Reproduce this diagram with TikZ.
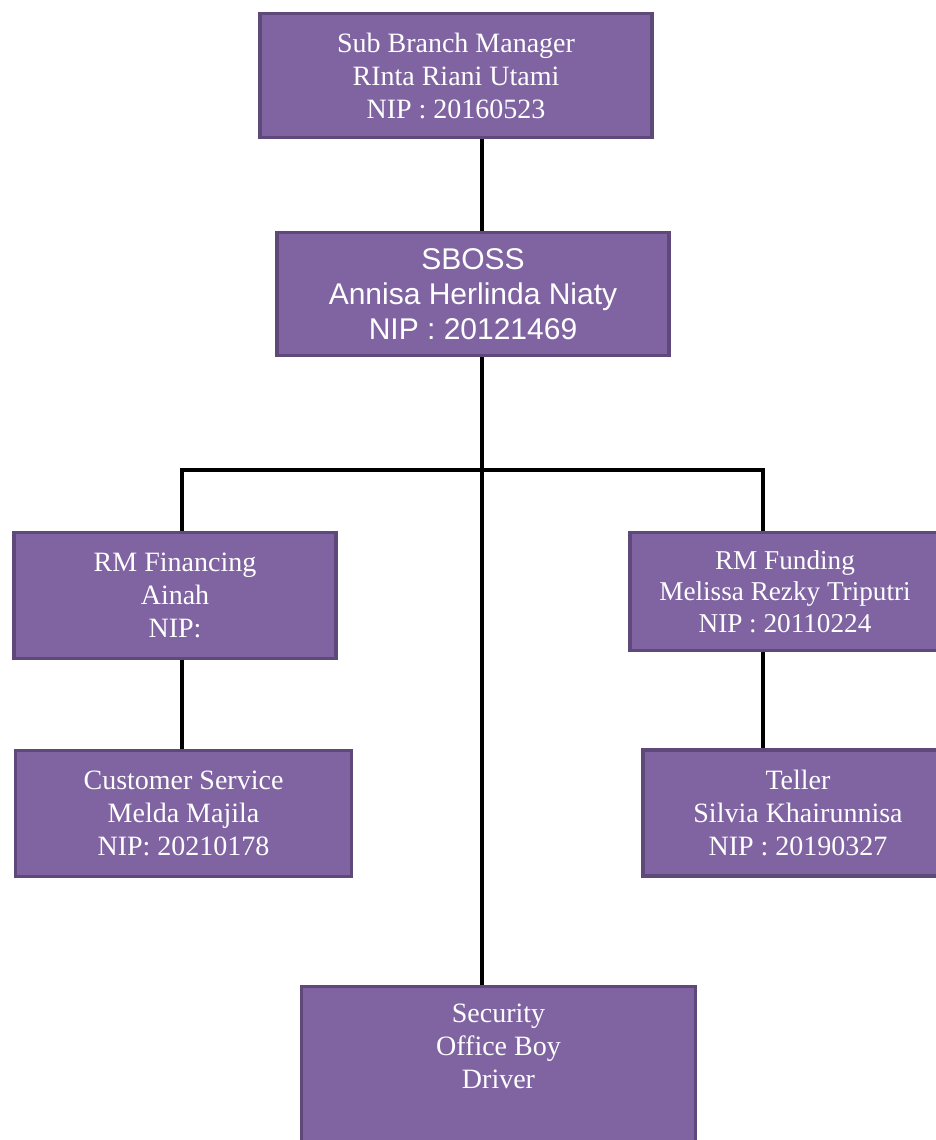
\documentclass[tikz,border=0pt]{standalone}
\usepackage{fontspec}
\setmainfont{Liberation Serif}
\newfontfamily\sbossfont{Liberation Sans}
\usepackage{tikz}
\usepackage{xcolor}
\definecolor{boxfill}{HTML}{8064A2}
\definecolor{boxline}{HTML}{5F497A}
\tikzset{
  orgbox/.style={draw=boxline, line width=1.7pt, fill=boxfill, text=white,
    align=center, inner sep=0pt, font={\fontsize{14}{16.5}\selectfont}},
  conn/.style={black, line width=2pt}
}
\begin{document}
\begin{tikzpicture}[x=0.5pt,y=-0.5pt]
				\useasboundingbox (0,0) rectangle (936,1140);
				\clip (0,0) rectangle (936,1140);
				\coordinate (trunk) at (482,470);
				\coordinate (lbr) at (182,470);
				\coordinate (rbr) at (763,470);
				\node[orgbox, minimum width=196pt, minimum height=62pt] (mgr) at (456,75.5) {Sub Branch Manager\\RInta Riani Utami\\NIP : 20160523};
				\node[orgbox, minimum width=196pt, minimum height=61.5pt, font={\sbossfont\fontsize{15}{17.5}\selectfont}] (sboss) at (473,294) {SBOSS\\Annisa Herlinda Niaty\\NIP : 20121469};
				\node[orgbox, minimum width=161pt, minimum height=63pt] (fin) at (175,595.5) {RM Financing\\Ainah\\NIP:};
				\node[orgbox, minimum width=155pt, minimum height=59pt, font={\fontsize{13.6}{15.75}\selectfont}] (fund) at (785,591.5) {RM Funding\\Melissa Rezky Triputri\\NIP : 20110224};
				\node[orgbox, minimum width=168pt, minimum height=63pt] (cs) at (183.5,813.5) {Customer Service\\Melda Majila\\NIP: 20210178};
				\node[orgbox, minimum width=155pt, minimum height=63pt] (tel) at (798,813) {Teller\\Silvia Khairunnisa\\NIP : 20190327};
				\node[orgbox, minimum width=197pt, anchor=north, inner ysep=8.5pt, text depth=90pt] (sec) at (498.5,985) {Security\\Office Boy\\Driver};
				\draw[conn] (mgr.south -| trunk) -- (sboss.north -| trunk);
				\draw[conn] (sboss.south -| trunk) -- (trunk) -- (sec.north -| trunk);
				\draw[conn] (lbr |- fin.north) -- (lbr) -- (rbr) -- (rbr |- fund.north);
				\draw[conn] (fin.south -| lbr) -- (cs.north -| lbr);
				\draw[conn] (fund.south -| rbr) -- (tel.north -| rbr);
			\end{tikzpicture}
\end{document}
